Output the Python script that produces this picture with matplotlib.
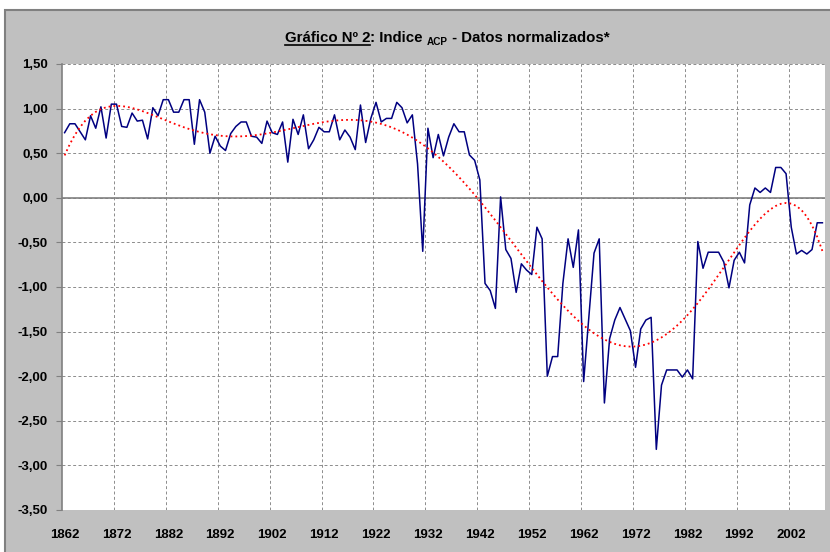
import numpy as np
import matplotlib
matplotlib.use("Agg")
import matplotlib.pyplot as plt
from matplotlib.patches import Rectangle
from matplotlib.lines import Line2D
from matplotlib.ticker import FuncFormatter, FixedLocator
from matplotlib import font_manager
from numpy.polynomial import Polynomial

years = list(range(1862, 2009))
values = [
    0.73, 0.83, 0.83, 0.74, 0.65, 0.92, 0.78, 1.02, 0.67, 1.05,   # 1862-1871
    1.05, 0.80, 0.79, 0.95, 0.86, 0.87, 0.66, 1.01, 0.92, 1.10,   # 1872-1881
    1.10, 0.96, 0.96, 1.10, 1.10, 0.60, 1.10, 0.96, 0.50, 0.69,   # 1882-1891
    0.58, 0.53, 0.72, 0.80, 0.85, 0.85, 0.69, 0.68, 0.61, 0.86,   # 1892-1901
    0.73, 0.71, 0.85, 0.40, 0.88, 0.71, 0.93, 0.55, 0.65, 0.79,   # 1902-1911
    0.74, 0.74, 0.93, 0.65, 0.76, 0.68, 0.54, 1.04, 0.62, 0.89,   # 1912-1921
    1.07, 0.85, 0.89, 0.89, 1.07, 1.01, 0.84, 0.93, 0.38, -0.60,  # 1922-1931
    0.78, 0.45, 0.71, 0.47, 0.68, 0.83, 0.74, 0.74, 0.48, 0.42,   # 1932-1941
    0.20, -0.96, -1.04, -1.24, 0.01, -0.58, -0.68, -1.06, -0.74, -0.81,  # 1942-1951
    -0.86, -0.33, -0.46, -2.00, -1.78, -1.78, -0.96, -0.46, -0.78, -0.36,  # 1952-1961
    -2.06, -1.34, -0.62, -0.46, -2.30, -1.58, -1.37, -1.23, -1.36, -1.49,  # 1962-1971
    -1.90, -1.47, -1.37, -1.34, -2.82, -2.10, -1.93, -1.93, -1.93, -2.01,  # 1972-1981
    -1.93, -2.03, -0.49, -0.79, -0.61, -0.61, -0.61, -0.72, -1.01, -0.70,  # 1982-1991
    -0.61, -0.73, -0.08, 0.11, 0.06, 0.11, 0.06, 0.34, 0.34, 0.27,    # 1992-2001
    -0.33, -0.63, -0.59, -0.63, -0.58, -0.28, -0.28,                  # 2002-2008
]
tick_years = list(range(1862, 2003, 10))
y_ticks = [1.5, 1.0, 0.5, 0.0, -0.5, -1.0, -1.5, -2.0, -2.5, -3.0, -3.5]
title_parts = ["Gráfico Nº 2", ": Indice ", "ACP", " - Datos normalizados*"]

avail = {f.name for f in font_manager.fontManager.ttflist}
narrow = 'Liberation Sans Narrow' if 'Liberation Sans Narrow' in avail else 'Liberation Sans'
regular = 'Liberation Sans' if 'Liberation Sans' in avail else 'DejaVu Sans'

W, H = 830, 552
fig = plt.figure(figsize=(W / 100, H / 100), dpi=100)
fig.patch.set_facecolor('white')
fig.add_artist(Rectangle((5 / W, -0.1), 1.2, (H - 10) / H + 0.1, transform=fig.transFigure,
                         facecolor='#C0C0C0', edgecolor='#808080', lw=1.5, zorder=0))

ax = fig.add_axes([62 / W, (H - 510) / H, (825 - 62) / W, (510 - 64) / H])
ax.set_facecolor('white')
ax.set_xlim(years[0] - 0.5, years[-1] + 0.5)
ax.set_ylim(y_ticks[-1], y_ticks[0])

# grids
ax.set_yticks(y_ticks)
ax.yaxis.set_major_formatter(FuncFormatter(lambda v, p: ("%.2f" % v).replace('.', ',') if abs(v) > 1e-9 else "0,00"))
ax.xaxis.set_major_locator(FixedLocator(tick_years))
ax.xaxis.set_minor_locator(FixedLocator([t + 9.5 for t in tick_years]))
ax.grid(True, axis='y', which='major', color='#8c8c8c', ls=(0, (3, 2.5)), lw=0.7, zorder=1)
ax.grid(True, axis='x', which='minor', color='#8c8c8c', ls=(0, (3, 2.5)), lw=0.7, zorder=1)
ax.axhline(0, color='#808080', lw=1.2, zorder=2)

for s in ['top', 'right', 'bottom']:
    ax.spines[s].set_visible(False)
ax.spines['left'].set_color('#808080')
ax.spines['left'].set_linewidth(1.2)
ax.spines['left'].set_zorder(3)

ax.tick_params(axis='y', length=4, color='#808080', pad=6, labelsize=9.5)
ax.tick_params(axis='x', which='both', length=0, pad=14, labelsize=9.5)
for lab in ax.get_xticklabels() + ax.get_yticklabels():
    lab.set_fontweight('bold')
    lab.set_fontfamily(regular)

# data
ax.plot(years, values, color='#000080', lw=1.1, zorder=4)
trend = Polynomial.fit(years, values, 6)
yy = np.array(years, dtype=float)
ax.plot(yy, trend(yy), color='#FF0000', ls=(0, (1, 1.7)), lw=1.3, zorder=5)

# title built from pieces
fig.canvas.draw()
r = fig.canvas.get_renderer()
sizes = [10.8, 10.8, 7.2, 10.8]
offs = [0, 0, -3, 0]
texts = []
for part, sz in zip(title_parts, sizes):
    t = fig.text(0, 0, part, fontsize=sz, fontweight='bold', fontfamily=narrow,
                 transform=None, va='baseline', ha='left', color='black')
    texts.append(t)
widths = [t.get_window_extent(r).width for t in texts]
total = sum(widths)
cx, base = 447, H - 42
x = cx - total / 2
for t, w, o in zip(texts, widths, offs):
    t.set_position((x, base + o))
    x += w
u0 = cx - total / 2
fig.add_artist(Line2D([u0, u0 + widths[0]], [base - 2.5, base - 2.5], transform=None, color='black', lw=1.2))

fig.savefig('out.png', dpi=100, facecolor=fig.get_facecolor())
